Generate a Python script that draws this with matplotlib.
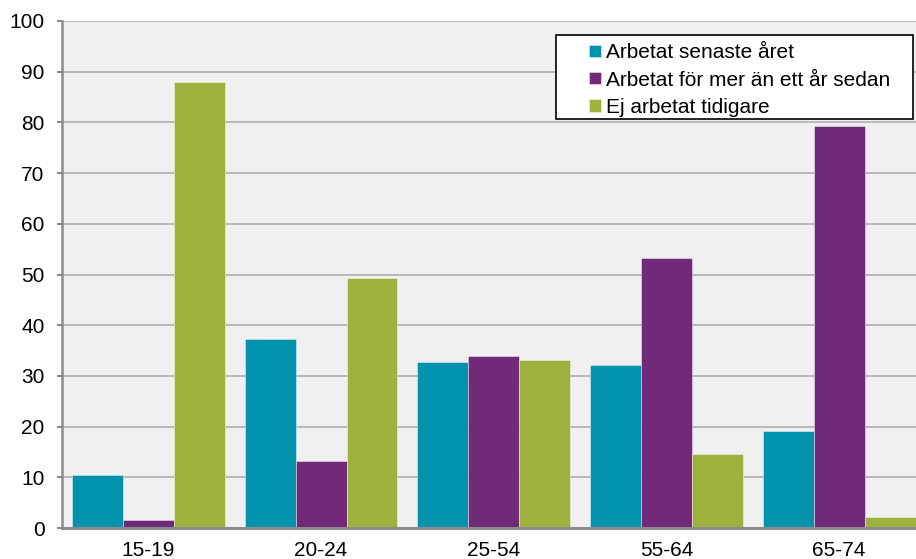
import numpy as np
import matplotlib
matplotlib.use('Agg')
from matplotlib import pyplot as plt
from matplotlib.patches import Rectangle

plt.rcParams['font.family'] = ['Liberation Sans', 'DejaVu Sans']

# data
categories = ['15-19', '20-24', '25-54', '55-64', '65-74']
series_names = ['Arbetat senaste året', 'Arbetat för mer än ett år sedan', 'Ej arbetat tidigare']
arbetat_senaste = [10.4, 37.3, 32.8, 32.2, 19.1]
arbetat_tidigare = [1.6, 13.2, 33.9, 53.2, 79.2]
ej_arbetat = [88.0, 49.3, 33.2, 14.5, 2.2]
y_ticks = [0, 10, 20, 30, 40, 50, 60, 70, 80, 90, 100]

colors = ['#0392ae', '#71297a', '#9db23c']

W, H = 916, 559
fig = plt.figure(figsize=(W / 100, H / 100), dpi=100)
ax = fig.add_axes([62 / W, (H - 528) / H, 863.5 / W, 507 / H])
ax.set_facecolor('#f0f0f0')

x = np.arange(len(categories))
bw = 0.295
for i, (vals, c) in enumerate(zip([arbetat_senaste, arbetat_tidigare, ej_arbetat], colors)):
    ax.bar(x + (i - 1) * bw, vals, width=bw, color=c, edgecolor=(1, 1, 1, 0.5),
           linewidth=0.6, label=series_names[i], zorder=3)

ax.set_xlim(-0.5, len(categories) - 0.5)
ax.set_ylim(0, 100)
ax.set_yticks(y_ticks)
ax.set_xticks(x)
ax.set_xticklabels(categories)
ax.yaxis.grid(True, color='#b4b4b4', linewidth=1.3, zorder=0)
ax.set_axisbelow(True)

for s in ['top', 'right']:
    ax.spines[s].set_visible(False)
ax.spines['left'].set_color('#8c8c8c')
ax.spines['left'].set_linewidth(1.8)
ax.spines['bottom'].set_color('#8c8c8c')
ax.spines['bottom'].set_linewidth(2.2)
ax.spines['bottom'].set_zorder(4)
ax.tick_params(axis='y', length=3.6, width=1.5, color='#8c8c8c', labelsize=15, pad=9)
ax.tick_params(axis='x', length=0, labelsize=15, pad=9)

# legend box
fig.patches.append(Rectangle((556 / W, 1 - 119 / H), (913 - 556) / W, (119 - 35) / H,
                             transform=fig.transFigure, facecolor='white',
                             edgecolor='black', linewidth=1.2, zorder=5))
leg = fig.legend(loc='upper left', bbox_to_anchor=(585 / W, 1 - 39 / H),
                 bbox_transform=fig.transFigure, frameon=False, fontsize=15,
                 handlelength=0.55, handleheight=0.55, handletextpad=0.25,
                 labelspacing=0.4, borderaxespad=0, borderpad=0.2)
leg.set_zorder(6)

fig.savefig('out.png', dpi=100)
